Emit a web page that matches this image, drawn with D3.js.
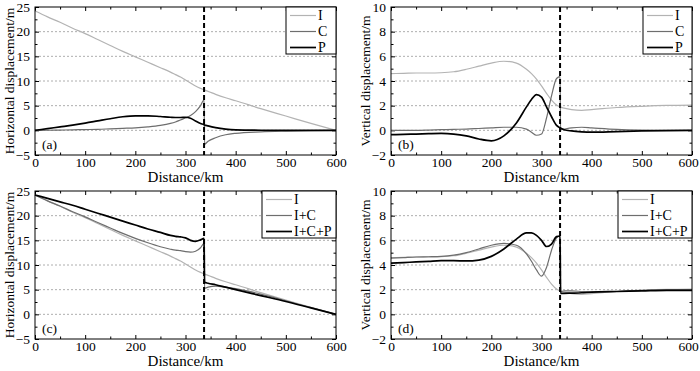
<!DOCTYPE html>
<html>
<head>
<meta charset="utf-8">
<script src="https://cdn.jsdelivr.net/npm/d3@7"></script>
<style>
  body { margin: 0; background: #fff; }
  svg { display: block; }
  svg text { font-family: "Liberation Serif", "Times New Roman", serif; fill: #000; }
</style>
</head>
<body>
<div id="chart"></div>
<script>
// distance samples (km); 337/338 straddle the fault
const km = [0, 25, 50, 75, 100, 125, 150, 175, 200, 225, 250, 270, 280, 290, 300, 310, 320, 330, 337, 338, 345, 360, 380, 400, 450, 500, 550, 600];

// horizontal displacement (m)
const hI   = [24.2, 23.0, 21.9, 20.7, 19.6, 18.4, 17.2, 16.0, 14.9, 13.8, 12.7, 11.8, 11.3, 10.8, 10.2, 9.6, 9.0, 8.5, 8.2, 8.15, 7.9, 7.3, 6.6, 6.0, 4.4, 2.9, 1.4, 0];
const hC   = [0, 0.02, 0.05, 0.1, 0.15, 0.2, 0.3, 0.4, 0.5, 0.7, 1.0, 1.4, 1.7, 2.1, 2.5, 3.0, 3.8, 5.0, 6.2, -2.8, -2.2, -1.5, -0.9, -0.6, -0.3, -0.15, -0.05, 0];
const hP   = [0, 0.35, 0.7, 1.05, 1.45, 1.9, 2.35, 2.75, 2.95, 2.95, 2.8, 2.65, 2.6, 2.6, 2.65, 2.45, 1.9, 1.4, 1.15, 1.1, 0.9, 0.55, 0.25, 0.1, 0.02, 0, 0, 0];
const hIC  = [24.2, 23.0, 21.95, 20.8, 19.75, 18.6, 17.5, 16.4, 15.4, 14.5, 13.7, 13.2, 13.0, 12.9, 12.7, 12.6, 12.8, 13.5, 14.4, 5.3, 5.5, 5.7, 5.5, 5.2, 4.1, 2.75, 1.35, 0];
const hICP = [24.2, 23.5, 22.8, 22.1, 21.3, 20.5, 19.7, 18.9, 18.1, 17.3, 16.6, 16.0, 15.8, 15.7, 15.5, 15.0, 14.8, 15.1, 15.4, 6.5, 6.3, 6.0, 5.5, 5.0, 3.8, 2.6, 1.3, 0];

// vertical displacement (m)
const vI   = [4.6, 4.62, 4.65, 4.65, 4.67, 4.75, 4.95, 5.2, 5.45, 5.6, 5.45, 4.95, 4.6, 4.15, 3.6, 3.0, 2.45, 2.05, 1.9, 1.88, 1.8, 1.68, 1.62, 1.68, 1.85, 1.95, 2.02, 2.05];
const vC   = [0, 0, 0, 0.02, 0.05, 0.08, 0.1, 0.15, 0.2, 0.25, 0.25, 0.1, -0.15, -0.4, -0.3, 1.0, 2.8, 4.2, 4.35, 0.05, 0.1, 0.2, 0.25, 0.2, 0.08, 0.02, 0, 0];
const vP   = [-0.35, -0.33, -0.3, -0.27, -0.25, -0.3, -0.45, -0.7, -0.85, -0.45, 0.6, 1.9, 2.5, 2.9, 2.7, 1.9, 1.1, 0.4, 0.2, 0.18, 0.05, -0.05, -0.12, -0.15, -0.1, -0.05, -0.02, 0];
const vIC  = [4.55, 4.6, 4.65, 4.67, 4.7, 4.8, 5.0, 5.3, 5.6, 5.75, 5.6, 4.9, 4.3, 3.6, 3.1, 3.8, 5.2, 6.2, 6.35, 1.85, 1.9, 1.9, 1.85, 1.8, 1.85, 1.95, 2.0, 2.0];
const vICP = [4.15, 4.2, 4.25, 4.3, 4.35, 4.35, 4.33, 4.4, 4.7, 5.3, 6.1, 6.6, 6.6, 6.4, 6.0, 5.5, 5.7, 6.3, 6.35, 1.7, 1.7, 1.72, 1.75, 1.8, 1.85, 1.9, 1.95, 1.95];

const faultKm = 337;
const xTicks = [0, 100, 200, 300, 400, 500, 600];
const hTicks = [-5, 0, 5, 10, 15, 20, 25];
const vTicks = [-2, 0, 2, 4, 6, 8, 10];

const colI = "#b3b3b3", colC = "#6e6e6e", colP = "#000";

const svg = d3.select("#chart").append("svg")
    .attr("width", 700)
    .attr("height", 371);

const pw = 301, ph = 148;

const panels = [
  {x: 35,  y: 7,   ticks: hTicks, title: "Horizontal displacement/m", tag: "(a)", legW: 50, edge: false,
   series: [{name: "I", v: hI, c: colI, w: 1.2}, {name: "C", v: hC, c: colC, w: 1.2}, {name: "P", v: hP, c: colP, w: 1.7}]},
  {x: 391, y: 7,   ticks: vTicks, title: "Vertical displacement/m", tag: "(b)", legW: 49, edge: true,
   series: [{name: "I", v: vI, c: colI, w: 1.2}, {name: "C", v: vC, c: colC, w: 1.2}, {name: "P", v: vP, c: colP, w: 1.7}]},
  {x: 35,  y: 191, ticks: hTicks, title: "Horizontal displacement/m", tag: "(c)", legW: 74, edge: false,
   series: [{name: "I", v: hI, c: colI, w: 1.2}, {name: "I+C", v: hIC, c: colC, w: 1.2}, {name: "I+C+P", v: hICP, c: colP, w: 1.7}]},
  {x: 391, y: 191, ticks: vTicks, title: "Vertical displacement/m", tag: "(d)", legW: 74, edge: true,
   series: [{name: "I", v: vI, c: colI, w: 1.2}, {name: "I+C", v: vIC, c: colC, w: 1.2}, {name: "I+C+P", v: vICP, c: colP, w: 1.7}]}
];

function midpoints(t) {
  const out = [];
  for (let i = 0; i < t.length - 1; i++) out.push((t[i] + t[i + 1]) / 2);
  return out;
}

panels.forEach(function (p) {
  const g = svg.append("g").attr("transform", `translate(${p.x},${p.y})`);

  const x = d3.scaleLinear().domain([0, 600]).range([0, pw]);
  const y = d3.scaleLinear().domain([p.ticks[0], p.ticks[p.ticks.length - 1]]).range([ph, 0]);

  // dotted grid at inner major y ticks
  g.append("g").selectAll("line")
    .data(p.ticks.slice(1, -1))
    .join("line")
      .attr("x1", 0).attr("x2", pw)
      .attr("y1", d => y(d)).attr("y2", d => y(d))
      .attr("stroke", "#999")
      .attr("stroke-width", 0.8)
      .attr("stroke-dasharray", "2,2");

  // axes, ticks pointing inward on all sides
  const xMinor = midpoints(xTicks), yMinor = midpoints(p.ticks);
  const axes = [
    [d3.axisBottom(x).tickValues(xTicks).tickSize(-4).tickPadding(2), `translate(0,${ph})`],
    [d3.axisBottom(x).tickValues(xMinor).tickSize(-2.5).tickFormat(""), `translate(0,${ph})`],
    [d3.axisTop(x).tickValues(xTicks).tickSize(-4).tickFormat(""), null],
    [d3.axisTop(x).tickValues(xMinor).tickSize(-2.5).tickFormat(""), null],
    [d3.axisLeft(y).tickValues(p.ticks).tickSize(-4).tickPadding(5), null],
    [d3.axisLeft(y).tickValues(yMinor).tickSize(-2.5).tickFormat(""), null],
    [d3.axisRight(y).tickValues(p.ticks).tickSize(-4).tickFormat(""), `translate(${pw},0)`],
    [d3.axisRight(y).tickValues(yMinor).tickSize(-2.5).tickFormat(""), `translate(${pw},0)`]
  ];
  axes.forEach(function (a, i) {
    const ag = g.append("g").call(a[0].tickSizeOuter(0))
      .attr("font-family", null)
      .attr("font-size", 13.5);
    if (a[1]) ag.attr("transform", a[1]);
    ag.select(".domain").remove();
    // the right-hand figures are cropped, so the last label sits a bit inside
    if (i === 0 && p.edge) {
      ag.selectAll("text").filter(d => d === 600).attr("dx", -4);
    }
  });

  // series lines
  const line = d3.line()
    .x((d, i) => x(km[i]))
    .y(d => y(d))
    .curve(d3.curveMonotoneX);

  g.append("g").selectAll("path")
    .data(p.series)
    .join("path")
      .attr("d", s => line(s.v))
      .attr("fill", "none")
      .attr("stroke", s => s.c)
      .attr("stroke-width", s => s.w);

  // fault position
  g.append("line")
    .attr("x1", x(faultKm)).attr("x2", x(faultKm))
    .attr("y1", 0).attr("y2", ph)
    .attr("stroke", "#000")
    .attr("stroke-width", 2)
    .attr("stroke-dasharray", "5,3");

  // frame
  g.append("rect")
    .attr("width", pw).attr("height", ph)
    .attr("fill", "none")
    .attr("stroke", "#000")
    .attr("stroke-width", 1);

  // legend
  const lg = g.append("g").attr("transform", `translate(${pw - p.legW},0)`);
  lg.append("rect")
    .attr("width", p.legW).attr("height", 47)
    .attr("fill", "#fff")
    .attr("stroke", "#000")
    .attr("stroke-width", 1);
  p.series.forEach(function (s, i) {
    const ly = 8.5 + i * 16;
    lg.append("line")
      .attr("x1", 4).attr("x2", 30)
      .attr("y1", ly).attr("y2", ly)
      .attr("stroke", s.c)
      .attr("stroke-width", s.w);
    lg.append("text")
      .attr("x", 32).attr("y", ly + 4.5)
      .attr("font-size", 14)
      .text(s.name);
  });

  // panel tag
  g.append("text")
    .attr("x", 7).attr("y", ph - 6)
    .attr("font-size", 13.5)
    .text(p.tag);

  // axis titles
  g.append("text")
    .attr("x", pw / 2).attr("y", ph + 27)
    .attr("text-anchor", "middle")
    .attr("font-size", 15)
    .text("Distance/km");

  g.append("text")
    .attr("transform", `translate(-21,${ph / 2}) rotate(-90)`)
    .attr("text-anchor", "middle")
    .attr("font-size", 13.5)
    .text(p.title);
});
</script>
</body>
</html>
